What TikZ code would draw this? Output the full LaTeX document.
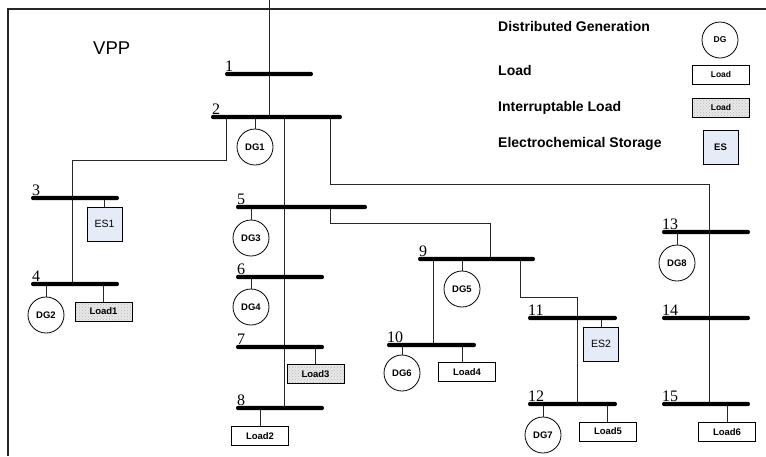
\documentclass[tikz,border=0pt]{standalone}
\usepackage{fontspec}
\setmainfont{Liberation Sans}
\newfontfamily\serifnum{Liberation Serif}
\usetikzlibrary{patterns}
\definecolor{esblue}{RGB}{230,236,247}
\definecolor{wire}{RGB}{40,40,40}
\tikzset{
  bus/.style={fill=black, draw=none, rounded corners=2pt, minimum height=4.2pt, inner sep=0pt},
  busnum/.style={font=\serifnum\fontsize{16}{16}\selectfont, anchor=base west, inner sep=0pt},
  dgnode/.style={circle, draw=black, line width=0.8pt, minimum size=36pt, inner sep=0pt, font=\bfseries\fontsize{9.5}{10}\selectfont},
  loadnode/.style={rectangle, draw=black, line width=0.8pt, minimum width=57pt, minimum height=19pt, inner sep=0pt, font=\bfseries\fontsize{9.5}{10}\selectfont},
  iload/.style={loadnode, preaction={fill=gray!18}, pattern=crosshatch dots, pattern color=gray!55},
  esnode/.style={rectangle, draw=black, line width=0.8pt, fill=esblue, minimum width=35pt, minimum height=34pt, inner sep=0pt, font=\fontsize{10.5}{11}\selectfont},
  conn/.style={draw=wire, line width=0.9pt},
  legtext/.style={anchor=base west, inner sep=0pt, font=\bfseries\fontsize{14}{14}\selectfont},
}
\begin{document}
\begin{tikzpicture}[x=1pt, y=-1pt]
\useasboundingbox (0,0) rectangle (766,456);
% frame
\coordinate (fbl) at (8,456);
\coordinate (ftl) at (8,9);
\coordinate (ftr) at (766,9);
\draw[black!85, line width=1.8pt] (fbl) -- (ftl) -- (ftr);

\node[anchor=base west, inner sep=0pt, font=\fontsize{18.5}{18.5}\selectfont] (vpp) at (93,54) {VPP};

% legend
\node[legtext] (lg1) at (498,31) {Distributed Generation};
\node[legtext] (lg2) at (498,75) {Load};
\node[legtext] (lg3) at (498,111) {Interruptable Load};
\node[legtext] (lg4) at (498,147) {Electrochemical Storage};
\node[dgnode, font=\bfseries\fontsize{8.5}{9}\selectfont] (lgdg) at (720,40) {DG};
\node[loadnode, font=\bfseries\fontsize{8.5}{9}\selectfont] (lgload) at (721,74.5) {Load};
\node[iload, font=\bfseries\fontsize{8.5}{9}\selectfont] (lgiload) at (721,107.5) {Load};
\node[esnode, font=\bfseries\fontsize{9.5}{10}\selectfont] (lges) at (720.5,147) {ES};

% connector coordinates
\coordinate (feed) at (269,0);
\coordinate (k1) at (226,160);
\coordinate (k2) at (72,160);
\coordinate (k3) at (284,117);
\coordinate (k4) at (330,184);
\coordinate (k5) at (709,184);
\coordinate (k6) at (330,223);
\coordinate (k7) at (490,223);
\coordinate (k8) at (433,259);
\coordinate (k9) at (520,297);
\coordinate (k10) at (577,297);

% wiring behind buses
\draw[conn] (feed) -- (feed |- 0,117);
\draw[conn] (k1 |- 0,117) -- (k1) -- (k2) -- (k2 |- 0,284);
\draw[conn] (k3) -- (k3 |- 0,408);
\draw[conn] (k4 |- 0,117) -- (k4) -- (k5) -- (k5 |- 0,404);
\draw[conn] (k6 |- 0,207) -- (k6) -- (k7) -- (k7 |- 0,259);
\draw[conn] (k8) -- (k8 |- 0,345);
\draw[conn] (k9 |- 0,259) -- (k9) -- (k10) -- (k10 |- 0,404);

% buses
\node[bus, minimum width=88pt] (b1) at (269,74) {};
\node[bus, minimum width=131pt] (b2) at (276.5,117) {};
\node[bus, minimum width=88pt] (b3) at (75,198) {};
\node[bus, minimum width=88pt] (b4) at (75,284) {};
\node[bus, minimum width=131pt] (b5) at (301.5,207) {};
\node[bus, minimum width=88pt] (b6) at (280,277) {};
\node[bus, minimum width=88pt] (b7) at (280,347) {};
\node[bus, minimum width=88pt] (b8) at (280,408) {};
\node[bus, minimum width=117pt] (b9) at (476.5,259) {};
\node[bus, minimum width=89pt] (b10) at (431.5,345) {};
\node[bus, minimum width=89pt] (b11) at (572.5,318) {};
\node[bus, minimum width=89pt] (b12) at (572.5,404) {};
\node[bus, minimum width=88pt] (b13) at (706,232) {};
\node[bus, minimum width=88pt] (b14) at (706,318) {};
\node[bus, minimum width=88pt] (b15) at (706,404) {};

% bus numbers
\node[busnum] (n1) at (225,71) {1};
\node[busnum] (n2) at (212,114) {2};
\node[busnum] (n3) at (32,195) {3};
\node[busnum] (n4) at (32,281) {4};
\node[busnum] (n5) at (237,204) {5};
\node[busnum] (n6) at (237,274) {6};
\node[busnum] (n7) at (237,344) {7};
\node[busnum] (n8) at (237,405) {8};
\node[busnum] (n9) at (419,256) {9};
\node[busnum] (n10) at (387,342) {10};
\node[busnum] (n11) at (528,315) {11};
\node[busnum] (n12) at (528,401) {12};
\node[busnum] (n13) at (662,229) {13};
\node[busnum] (n14) at (662,315) {14};
\node[busnum] (n15) at (662,401) {15};

% devices
\node[dgnode] (dg1) at (255,147) {DG1};
\node[dgnode] (dg2) at (46,315) {DG2};
\node[dgnode] (dg3) at (251,238) {DG3};
\node[dgnode] (dg4) at (251,307) {DG4};
\node[dgnode] (dg5) at (462,289) {DG5};
\node[dgnode] (dg6) at (402,373) {DG6};
\node[dgnode] (dg7) at (543,435) {DG7};
\node[dgnode] (dg8) at (677,263) {DG8};

\node[esnode] (es1) at (104.5,224) {ES1};
\node[esnode] (es2) at (601,344) {ES2};

\node[iload] (ld1) at (103.5,311.5) {Load1};
\node[loadnode] (ld2) at (260,436) {Load2};
\node[iload] (ld3) at (315.5,374) {Load3};
\node[loadnode] (ld4) at (467,372) {Load4};
\node[loadnode] (ld5) at (608,431.5) {Load5};
\node[loadnode] (ld6) at (727,432) {Load6};

% device connectors
\draw[conn] (dg1.north) -- (dg1.north |- b2.south);
\draw[conn] (dg2.north) -- (dg2.north |- b4.south);
\draw[conn] (dg3.north) -- (dg3.north |- b5.south);
\draw[conn] (dg4.north) -- (dg4.north |- b6.south);
\draw[conn] (dg5.north) -- (dg5.north |- b9.south);
\draw[conn] (dg6.north) -- (dg6.north |- b10.south);
\draw[conn] (dg7.north) -- (dg7.north |- b12.south);
\draw[conn] (dg8.north) -- (dg8.north |- b13.south);
\draw[conn] (es1.north) -- (es1.north |- b3.south);
\draw[conn] (es2.north) -- (es2.north |- b11.south);
\draw[conn] (ld1.north) -- (ld1.north |- b4.south);
\draw[conn] (ld2.north) -- (ld2.north |- b8.south);
\draw[conn] (ld3.north) -- (ld3.north |- b7.south);
\draw[conn] (ld4.north -| 462,0) -- (462,0 |- b10.south);
\draw[conn] (ld5.north -| 607,0) -- (607,0 |- b12.south);
\draw[conn] (ld6.north) -- (ld6.north |- b15.south);
\end{tikzpicture}
\end{document}
